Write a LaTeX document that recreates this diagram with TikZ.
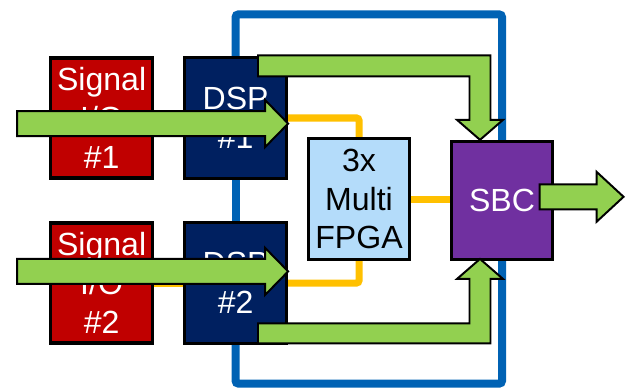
\documentclass[tikz,border=0pt]{standalone}
\usepackage{fontspec}
\setmainfont{Liberation Sans}
\usepackage{tikz}
\usetikzlibrary{calc,backgrounds}

\definecolor{iored}{HTML}{C00000}
\definecolor{dspblue}{HTML}{002060}
\definecolor{fpgablue}{HTML}{B4DCFA}
\definecolor{sbcpurple}{HTML}{7030A0}
\definecolor{busblue}{HTML}{0062B4}
\definecolor{linkorange}{HTML}{FFC000}
\definecolor{flowgreen}{HTML}{92D050}

\begin{document}
\begin{tikzpicture}[
	block/.style={draw=black, line width=2.2pt, minimum width=2.55cm, minimum height=3cm, inner sep=1pt, align=center, font=\fontsize{22.8}{27.7}\selectfont},
	bus/.style={draw=busblue, line width=0.2cm, rounded corners=0.07cm},
	link/.style={draw=linkorange, line width=0.175cm, rounded corners=0.06cm},
	fat/.style={draw=black, fill=flowgreen, line width=1.4pt, line join=miter}]
				\useasboundingbox (0,0) rectangle (15.65,9.75);
				\coordinate (bustop) at (5.89,9.39);
				\coordinate (busbot) at (5.89,0.16);
				\node [block, fill=iored, text=white] (sig1) at (2.54,6.8) {Signal\\I/O\\\#1};
				\node [block, fill=iored, text=white] (sig2) at (2.54,2.675) {Signal\\I/O\\\#2};
				\node [block, fill=dspblue, text=white, minimum height=3.03cm] (dsp1) at (5.89,6.8) {DSP\\\#1};
				\node [block, fill=dspblue, text=white, minimum height=3.03cm] (dsp2) at (5.89,2.675) {DSP\\\#2};
				\node [block, fill=fpgablue, text=black, minimum width=2.52cm, minimum height=3.03cm] (fpga) at (8.975,4.775) {3x\\Multi\\FPGA};
				\node [block, fill=sbcpurple, text=white, minimum width=2.52cm, minimum height=2.95cm] (sbc) at (12.55,4.74) {SBC};
				\begin{scope}[on background layer]
				\path [bus] (dsp1.center) -- (dsp1 |- bustop) -- (sbc |- bustop) -- (sbc.center);
				\path [bus] (dsp1.center) -- (dsp2.center);
				\path [bus] (dsp2.center) -- (dsp2 |- busbot) -- (sbc |- busbot) -- (sbc.center);
				\path [link] (sig1.east) -- (dsp1.west);
				\path [link] (sig2.east) -- (dsp2.west);
				\path [link] (dsp1.east) -| (fpga.north);
				\path [link] (dsp2.east) -| (fpga.south);
				\path [link] (fpga.east) -- (fpga.east -| sbc.west);
				\end{scope}
				\foreach \d/\dy in {dsp1/-0.14, dsp2/0.29}
				\draw [fat] ($(\d.east)+(0,\dy)$) -- ++(-0.575,0.5875) -- ++(0,-0.275) -- ++(-6.2,0) -- ++(0,-0.625) -- ++(6.2,0) -- ++(0,-0.275) -- cycle;
				\draw [fat] ($(sbc.north)+(-0.55,0)$) -- ++(-0.575,0.5) -- ++(0.3125,0) -- ++(0,1.0875) -- ++(-5.2875,0) -- ++(0,0.525) -- ++(5.8125,0) -- ++(0,-1.6125) -- ++(0.3125,0) -- cycle;
				\draw [fat] ($(sbc.south)+(-0.55,0.05)$) -- ++(-0.575,-0.5) -- ++(0.3125,0) -- ++(0,-1.1125) -- ++(-5.2875,0) -- ++(0,-0.5) -- ++(5.8125,0) -- ++(0,1.6125) -- ++(0.3125,0) -- cycle;
				\draw [fat] ($(sbc.east)+(1.74,0.09)$) -- ++(-0.675,0.625) -- ++(0,-0.3125) -- ++(-1.425,0) -- ++(0,-0.625) -- ++(1.425,0) -- ++(0,-0.3125) -- cycle;
			\end{tikzpicture}
\end{document}
